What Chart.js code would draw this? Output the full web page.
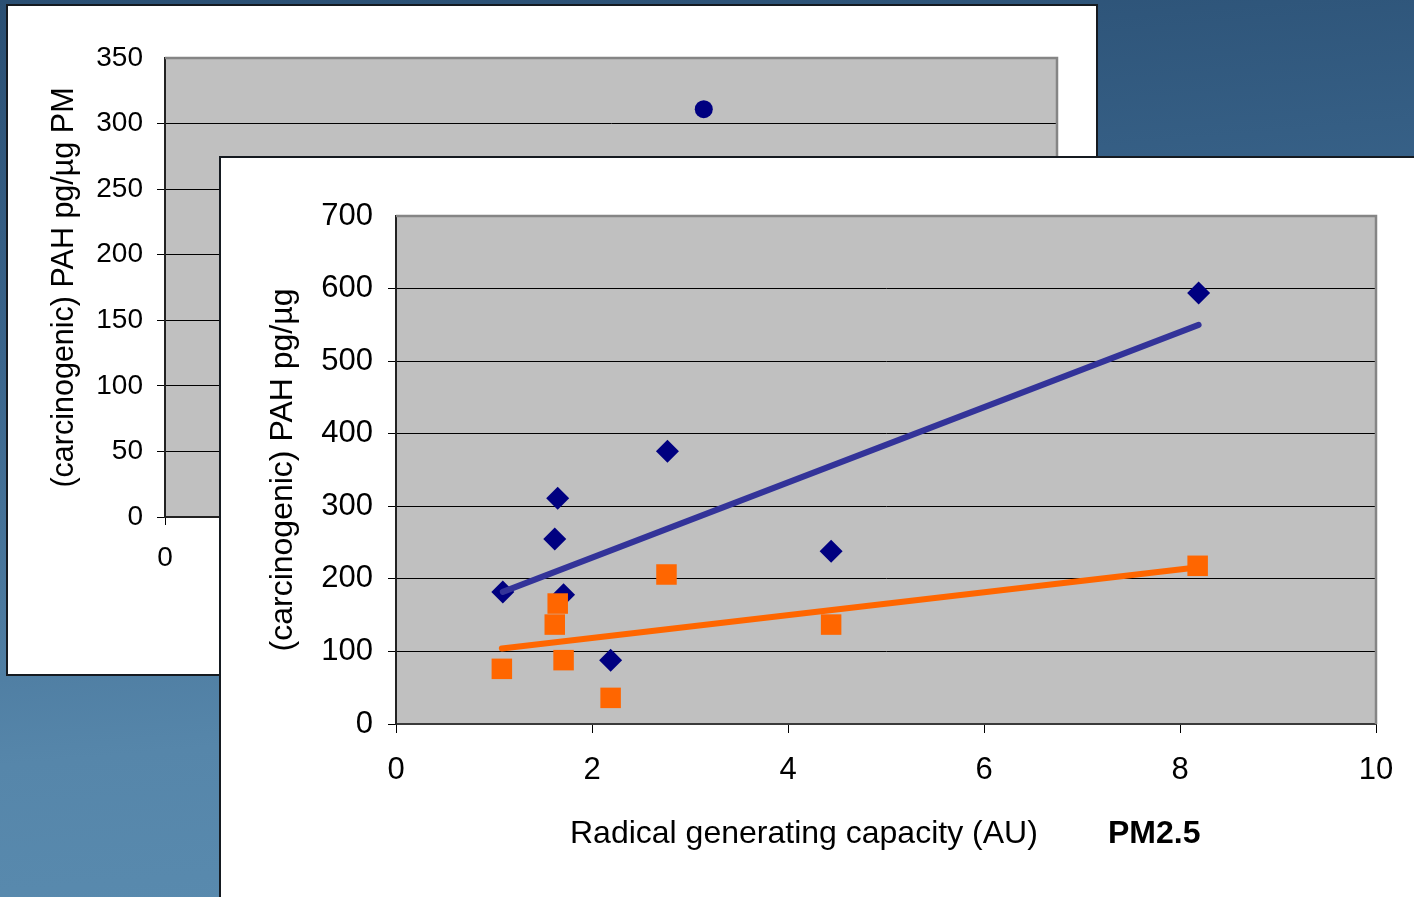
<!DOCTYPE html>
<html>
<head>
<meta charset="utf-8">
<script src="https://cdn.jsdelivr.net/npm/chart.js@4"></script>
<style>
  html, body { margin: 0; padding: 0; }
  body {
    width: 1414px; height: 897px; overflow: hidden; position: relative;
    background: linear-gradient(175deg, #2a4f73 0%, #3a658c 35%, #5686aa 75%, #5a8cb0 100%);
    font-family: 'Liberation Sans', Arial, sans-serif;
  }
  .panel { position: absolute; background: #fff; box-sizing: border-box; }
  #back { left: 6px; top: 4px; width: 1092px; height: 672px; border: 2px solid #151a20; }
  #front { left: 219px; top: 156px; width: 1200px; height: 750px; border-left: 2px solid #151a20; border-top: 2px solid #151a20; }
  canvas { position: absolute; left: 0; top: 0; }
  .lbl { position: absolute; font-size: 32px; line-height: 32px; color: #000; white-space: nowrap; }
</style>
</head>
<body>
<div class="panel" id="back"><canvas id="backChart" width="1088" height="668"></canvas></div>
<div class="panel" id="front"><canvas id="frontChart" width="1193" height="739"></canvas></div>
<div class="lbl" style="left:570px; top:816px;">Radical generating capacity (AU)</div>
<div class="lbl" style="left:1108px; top:816px; font-weight:bold;">PM2.5</div>
<script>
// front chart: PAH per ug vs radical generating capacity
var diamondX = [1.09, 1.62, 1.65, 1.71, 2.19, 2.77, 4.44, 8.19];
var diamondY = [182, 255, 311, 178, 88, 376, 238, 594];
var squareX = [1.08, 1.62, 1.65, 1.71, 2.19, 2.76, 4.44, 8.18];
var squareY = [76, 137, 166, 88, 36, 206, 137, 218];
var trendBlueX = [1.09, 8.19];
var trendBlueY = [182, 550];
var trendOrangeX = [1.08, 8.19];
var trendOrangeY = [104, 216];
var frontYTicks = [0, 100, 200, 300, 400, 500, 600, 700];
var frontXTicks = [0, 2, 4, 6, 8, 10];

// back chart (mostly hidden): PAH per ug PM
var backX = [6.04];
var backY = [311];
var backYTicks = [0, 50, 100, 150, 200, 250, 300, 350];
var backXTicks = [0, 2, 4, 6, 8, 10];

Chart.defaults.font.family = "'Liberation Sans', Arial, sans-serif";
Chart.defaults.color = '#000';

function pts(xs, ys) {
  return xs.map(function (x, i) { return { x: x, y: ys[i] }; });
}

// gray plot area with a gray frame on top and right
var plotArea = {
  id: 'plotArea',
  beforeDraw: function (chart) {
    var a = chart.chartArea, c = chart.ctx;
    c.save();
    c.fillStyle = '#c0c0c0';
    c.fillRect(a.left, a.top, a.right - a.left, a.bottom - a.top);
    c.restore();
  },
  afterDatasetsDraw: function (chart) {
    var a = chart.chartArea, c = chart.ctx;
    c.save();
    c.strokeStyle = '#858585';
    c.lineWidth = 2.5;
    c.beginPath();
    c.moveTo(a.left, a.top);
    c.lineTo(a.right, a.top);
    c.lineTo(a.right, a.bottom);
    c.stroke();
    c.restore();
  }
};

function gridColor(max) {
  return function (ctx) {
    return ctx.tick && ctx.tick.value === max ? 'rgba(0,0,0,0)' : '#000';
  };
}

new Chart(document.getElementById('backChart'), {
  type: 'scatter',
  data: {
    datasets: [{
      data: pts(backX, backY),
      pointStyle: 'circle',
      pointRadius: 9,
      backgroundColor: '#000080',
      borderColor: '#000080',
      borderWidth: 0
    }]
  },
  options: {
    responsive: false,
    animation: false,
    devicePixelRatio: 1,
    layout: { padding: { top: 52, right: 39, left: 0, bottom: 0 } },
    plugins: { legend: { display: false }, tooltip: { enabled: false } },
    scales: {
      x: {
        type: 'linear', min: 0, max: 10,
        afterBuildTicks: function (s) { s.ticks = backXTicks.map(function (v) { return { value: v }; }); },
        afterFit: function (s) { s.height = 157; },
        grid: { drawOnChartArea: false, drawTicks: true, tickLength: 8, color: '#000' },
        border: { color: '#222', width: 2 },
        ticks: { font: { size: 28 }, padding: 16, maxRotation: 0 }
      },
      y: {
        type: 'linear', min: 0, max: 350,
        afterBuildTicks: function (s) { s.ticks = backYTicks.map(function (v) { return { value: v }; }); },
        afterFit: function (s) { s.width = 157; },
        grid: { color: gridColor(350), tickLength: 8, lineWidth: 1 },
        border: { color: '#222', width: 2 },
        ticks: { font: { size: 28 }, padding: 14 },
        title: { display: true, text: '(carcinogenic) PAH pg/µg PM', font: { size: 30.5 }, padding: { top: 38, bottom: 0 } }
      }
    }
  },
  plugins: [plotArea]
});

new Chart(document.getElementById('frontChart'), {
  type: 'scatter',
  data: {
    datasets: [
      {
        data: pts(diamondX, diamondY),
        pointStyle: 'rectRot',
        pointRadius: 11.5,
        backgroundColor: '#000080',
        borderColor: '#000080',
        borderWidth: 0,
        order: 3
      },
      {
        data: pts(squareX, squareY),
        pointStyle: 'rect',
        pointRadius: 14.5,
        backgroundColor: '#ff6600',
        borderColor: '#ff6600',
        borderWidth: 0,
        order: 1
      },
      {
        data: pts(trendBlueX, trendBlueY),
        showLine: true,
        pointRadius: 0,
        borderColor: '#333399',
        borderWidth: 6,
        borderCapStyle: 'round',
        order: 0
      },
      {
        data: pts(trendOrangeX, trendOrangeY),
        showLine: true,
        pointRadius: 0,
        borderColor: '#ff6600',
        borderWidth: 6,
        borderCapStyle: 'round',
        order: 2
      }
    ]
  },
  options: {
    responsive: false,
    animation: false,
    devicePixelRatio: 1,
    layout: { padding: { top: 58, right: 38, left: 0, bottom: 0 } },
    plugins: { legend: { display: false }, tooltip: { enabled: false } },
    scales: {
      x: {
        type: 'linear', min: 0, max: 10,
        afterBuildTicks: function (s) { s.ticks = frontXTicks.map(function (v) { return { value: v }; }); },
        afterFit: function (s) { s.height = 173; },
        grid: { drawOnChartArea: false, drawTicks: true, tickLength: 9, color: '#000' },
        border: { color: '#3a3a3a', width: 2 },
        ticks: { font: { size: 31 }, padding: 19, maxRotation: 0 }
      },
      y: {
        type: 'linear', min: 0, max: 700,
        afterBuildTicks: function (s) { s.ticks = frontYTicks.map(function (v) { return { value: v }; }); },
        afterFit: function (s) { s.width = 175; },
        grid: { color: gridColor(700), tickLength: 8, lineWidth: 1 },
        border: { color: '#222', width: 2 },
        ticks: { font: { size: 31 }, padding: 15 },
        title: { display: true, text: '(carcinogenic) PAH pg/µg', font: { size: 32 }, padding: { top: 43, bottom: 0 } }
      }
    }
  },
  plugins: [plotArea]
});
</script>
</body>
</html>
